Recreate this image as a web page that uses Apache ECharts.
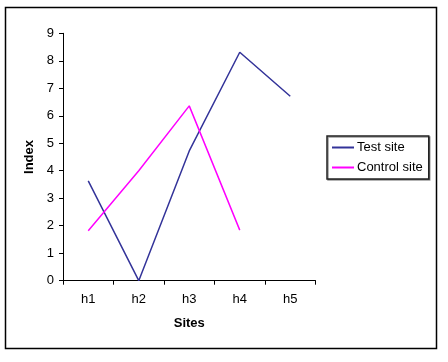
<!DOCTYPE html>
<html><head><meta charset="utf-8">
<script src="https://cdn.jsdelivr.net/npm/echarts@6/dist/echarts.min.js"></script>
<style>html,body{margin:0;padding:0;background:#fff}#c{width:448px;height:362px}</style>
</head><body><div id="c"></div>
<script>
var categories = ['h1','h2','h3','h4','h5'];
var testSite = [3.63, 0, 4.72, 8.31, 6.71];
var controlSite = [1.82, 4.0, 6.36, 1.84, null];
var yTicks = [0,1,2,3,4,5,6,7,8,9];

var chart = echarts.init(document.getElementById('c'));
var font = 'Liberation Sans, Arial, sans-serif';
chart.setOption({
  animation: false,
  backgroundColor: '#fff',
  graphic: [{
    type: 'rect', shape: {x: 5.5, y: 7.5, width: 431, height: 341},
    style: {fill: 'none', stroke: '#000', lineWidth: 1.5}, silent: true
  }],
  grid: {left: 63, top: 33.3, right: 132.5, bottom: 81.3, containLabel: false},
  legend: {
    orient: 'vertical', left: 327, top: 136,
    padding: [5, 6, 5, 5],
    backgroundColor: '#fff',
    borderColor: '#222', borderWidth: 1.5,
    shadowColor: 'rgba(0,0,0,0.4)', shadowOffsetX: 1, shadowOffsetY: 1, shadowBlur: 0,
    itemWidth: 22, itemHeight: 2, itemGap: 7,
    icon: 'rect',
    textStyle: {fontFamily: font, fontSize: 13, color: '#000', padding: [0,0,0,-2]},
    data: ['Test site', 'Control site']
  },
  xAxis: {
    type: 'category', data: categories, boundaryGap: true,
    name: 'Sites', nameLocation: 'middle', nameGap: 36,
    nameTextStyle: {fontFamily: font, fontSize: 13, fontWeight: 'bold', color: '#000'},
    axisLine: {lineStyle: {color: '#000', width: 1}},
    axisTick: {show: true, length: 4, inside: false, alignWithLabel: false, lineStyle: {color: '#000'}},
    axisLabel: {fontFamily: font, fontSize: 13, color: '#000', margin: 12},
    splitLine: {show: false}
  },
  yAxis: {
    type: 'value', min: 0, max: 9, interval: 1,
    name: 'Index', nameLocation: 'middle', nameGap: 24, nameRotate: 90,
    nameTextStyle: {fontFamily: font, fontSize: 13, fontWeight: 'bold', color: '#000'},
    axisLine: {show: true, lineStyle: {color: '#000', width: 1}},
    axisTick: {show: true, length: 4, lineStyle: {color: '#000'}},
    axisLabel: {fontFamily: font, fontSize: 13, color: '#000', margin: 9,
      formatter: function(v){ return yTicks.indexOf(v) >= 0 ? String(v) : ''; }},
    splitLine: {show: false}
  },
  series: [
    {name: 'Test site', type: 'line', data: testSite, showSymbol: false, symbol: 'none',
     lineStyle: {color: '#333399', width: 1.5}, itemStyle: {color: '#333399'}},
    {name: 'Control site', type: 'line', data: controlSite, showSymbol: false, symbol: 'none',
     connectNulls: false,
     lineStyle: {color: '#ff00ff', width: 1.5}, itemStyle: {color: '#ff00ff'}}
  ]
});
</script></body></html>
